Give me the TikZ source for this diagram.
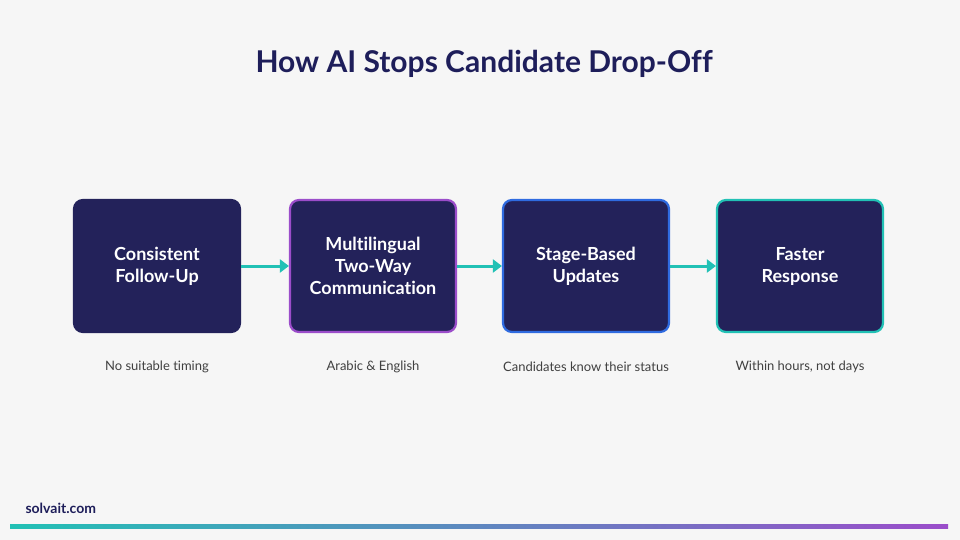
\documentclass[tikz,border=0pt]{standalone}
\usepackage{fontspec}
\setmainfont[Ligatures=NoCommon]{Lato}
\usetikzlibrary{positioning,arrows.meta}
\definecolor{navy}{RGB}{35, 34, 90}
\definecolor{inknavy}{RGB}{30, 30, 90}
\definecolor{turquoise}{RGB}{34, 193, 181}
\definecolor{amethyst}{RGB}{155, 77, 202}
\definecolor{royal}{RGB}{47, 107, 224}
\definecolor{paper}{RGB}{246, 246, 246}
\tikzset{
  step/.style={draw=#1, fill=navy, line width=2.2pt, rounded corners=9pt,
    minimum width=166pt, minimum height=132pt, text=white, align=center,
    font=\bfseries\fontsize{18}{22}\selectfont},
  note/.style={text=black!75, font=\fontsize{13}{15}\selectfont},
  link/.style={turquoise, line width=3pt, -{Triangle[length=9pt,width=13pt]}}
}
\begin{document}
\begin{tikzpicture}[x=1pt,y=-1pt]
  % Background
  \fill[paper] (0,0) rectangle (960,540);
  \useasboundingbox (0,0) rectangle (960,540);
  % Title
  \node[text=inknavy, font=\bfseries\fontsize{30}{34}\selectfont] (title) at (484,64) {How AI Stops Candidate Drop-Off};
  % Steps
  \node[step=navy]      (follow)  at (157,266) {Consistent\\Follow-Up};
  \node[step=amethyst]  (multi)   at (373,266) {Multilingual\\Two-Way\\Communication};
  \node[step=royal]     (stage)   at (586,266) {Stage-Based\\Updates};
  \node[step=turquoise] (faster)  at (800,266) {Faster\\Response};
  % Links
  \draw[link] (follow) -- (multi);
  \draw[link] (multi) -- (stage);
  \draw[link] (stage) -- (faster);
  % Notes
  \node[note] (n1) at (157,367) {No suitable timing};
  \node[note] (n2) at (373,367) {Arabic \& English};
  \node[note] (n3) at (586,367) {Candidates know their status};
  \node[note] (n4) at (800,367) {Within hours, not days};
  % Footer
  \node[anchor=west, text=inknavy, font=\bfseries\fontsize{14}{16}\selectfont] (site) at (22,508) {solvait.com};
  \shade[left color=turquoise, middle color=royal, right color=amethyst] (10,524) rectangle (948,528);
\end{tikzpicture}
\end{document}
